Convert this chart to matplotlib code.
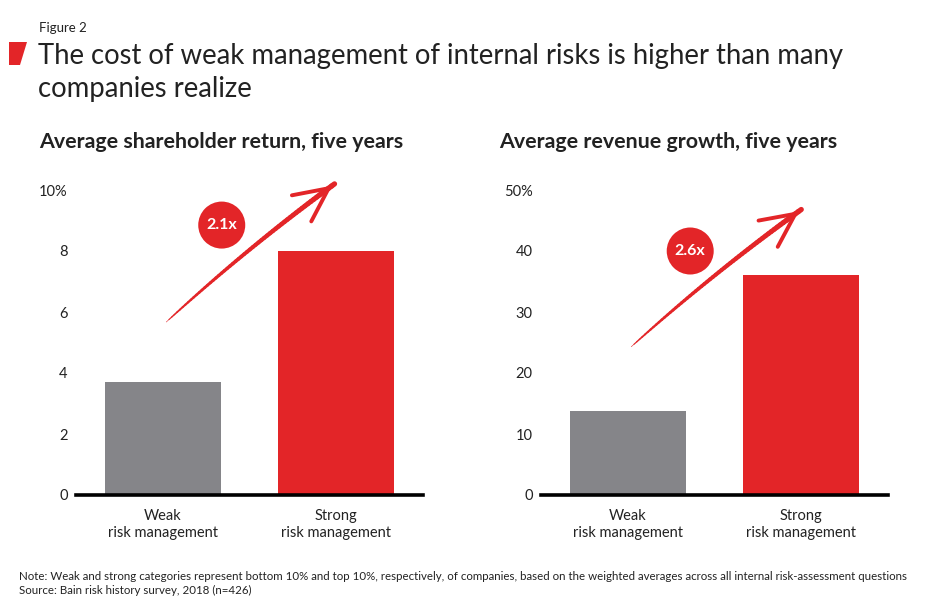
import numpy as np
import matplotlib
matplotlib.use("Agg")
import matplotlib.pyplot as plt
from matplotlib.collections import LineCollection
from matplotlib.patches import Polygon, Ellipse, FancyArrowPatch

plt.rcParams['font.family'] = ['Lato', 'DejaVu Sans']

# ---- data ----
categories = ["Weak\nrisk management", "Strong\nrisk management"]
shareholder_return = [3.7, 8.0]
revenue_growth = [13.8, 36.0]
left_ticks = [0, 2, 4, 6, 8, 10]
left_ticklabels = ["0", "2", "4", "6", "8", "10%"]
right_ticks = [0, 10, 20, 30, 40, 50]
right_ticklabels = ["0", "10", "20", "30", "40", "50%"]
left_title = "Average shareholder return, five years"
right_title = "Average revenue growth, five years"
left_multiple = "2.1x"
right_multiple = "2.6x"

GRAY = "#858589"
RED = "#E32528"
W, H = 950, 615

fig = plt.figure(figsize=(9.5, 6.15), dpi=100)

def fx(px):
    return px / W

def fy(py):
    return 1 - py / H

# header
fig.text(fx(39), fy(32), "Figure 2", fontsize=9.5, color="#222222", va="baseline")
fig.patches.append(Polygon([[fx(9), fy(42)], [fx(27), fy(42)], [fx(20), fy(65)], [fx(9), fy(65)]],
                           closed=True, transform=fig.transFigure, facecolor=RED, edgecolor="none"))
fig.text(fx(38), fy(64), "The cost of weak management of internal risks is higher than many",
         fontsize=19.8, color="#222222", va="baseline")
fig.text(fx(38), fy(97), "companies realize", fontsize=19.8, color="#222222", va="baseline")

fig.text(fx(19), fy(580), "Note: Weak and strong categories represent bottom 10% and top 10%, respectively, of companies, "
         "based on the weighted averages across all internal risk-assessment questions",
         fontsize=8.3, color="#222222", va="baseline")
fig.text(fx(19), fy(594), "Source: Bain risk history survey, 2018 (n=426)", fontsize=8.3, color="#222222", va="baseline")


def panel(left_px, right_px, values, ticks, ticklabels, title, title_px, multiple,
          arrow_start, arrow_end, badge):
    ax = fig.add_axes([fx(left_px), fy(495), fx(right_px) - fx(left_px), fy(190) - fy(495)])
    x = np.arange(len(values))
    ax.bar(x, values, width=0.67, color=[GRAY, RED], zorder=2)
    ax.set_xlim(-0.5, 1.5)
    ax.set_ylim(ticks[0], ticks[-1])
    ax.set_yticks(ticks)
    ax.set_yticklabels(ticklabels)
    ax.set_xticks(x)
    ax.set_xticklabels(categories, linespacing=1.25)
    ax.tick_params(axis="both", length=0, labelsize=10.5, colors="#222222")
    ax.tick_params(axis="y", pad=6)
    ax.tick_params(axis="x", pad=10)
    for s in ["left", "right", "top"]:
        ax.spines[s].set_visible(False)
    ax.spines["bottom"].set_linewidth(2.6)
    ax.spines["bottom"].set_color("black")
    ax.spines["bottom"].set_zorder(3)

    fig.text(fx(title_px), fy(148), title, fontsize=15.4, fontweight="bold",
             color="#222222", va="baseline")

    # tapered, slightly curved arrow shaft (quadratic Bezier in display space)
    p0 = ax.transData.transform(arrow_start)
    p2 = ax.transData.transform(arrow_end)
    d = p2 - p0
    nrm = np.array([-d[1], d[0]]) / np.hypot(*d)
    p1 = (p0 + p2) / 2 + nrm * 6
    t = np.linspace(0, 1, 60)[:, None]
    pts = (1 - t) ** 2 * p0 + 2 * (1 - t) * t * p1 + t ** 2 * p2
    segs = np.stack([pts[:-1], pts[1:]], axis=1)
    widths = 0.4 + 3.4 * np.sqrt(np.linspace(0, 1, len(segs)))
    lc = LineCollection(segs, linewidths=widths, colors=RED, capstyle="round",
                        transform=None, zorder=4)
    lc.set_clip_on(False)
    fig.add_artist(lc)
    # arrow head (open chevron)
    inv = fig.transFigure.inverted()
    tail_pt = pts[-8]
    head = FancyArrowPatch(inv.transform(tail_pt), inv.transform(p2), transform=fig.transFigure,
                           arrowstyle="->,head_length=1.35,head_width=0.65", mutation_scale=18,
                           color=RED, lw=2.8, capstyle="round", joinstyle="round")
    fig.patches.append(head)

    # badge
    bx, by = ax.transData.transform(badge)
    ell = Ellipse(inv.transform((bx, by)), width=47 / W, height=47 / H, transform=fig.transFigure,
                  facecolor=RED, edgecolor="none", zorder=5)
    fig.patches.append(ell)
    fig.text(*inv.transform((bx, by)), multiple, fontsize=11.5, fontweight="bold", color="white",
             ha="center", va="center", zorder=6)
    return ax


panel(76, 423, shareholder_return, left_ticks, left_ticklabels, left_title, 39, left_multiple,
      (0.02, 5.67), (0.99, 10.2), (0.34, 8.85))
panel(541, 888, revenue_growth, right_ticks, right_ticklabels, right_title, 499, right_multiple,
      (0.02, 24.3), (1.0, 46.8), (0.36, 40.0))

fig.savefig("out.png", dpi=100)
